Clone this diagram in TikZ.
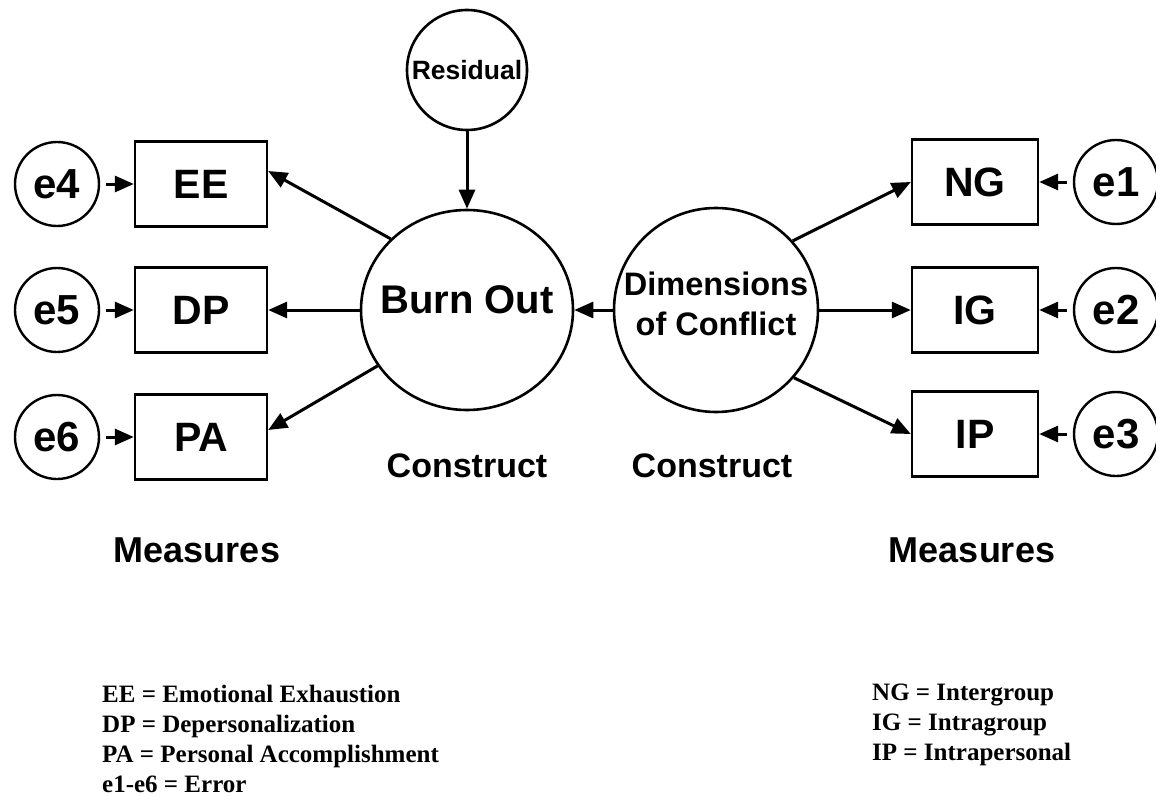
\documentclass[tikz,border=0pt]{standalone}
\usepackage{fontspec}
\setmainfont{Liberation Serif}
\newfontfamily\diagfont{Liberation Sans}
\usetikzlibrary{arrows.meta,shapes.geometric}
\begin{document}
\begin{tikzpicture}[x=1pt,y=-1pt,
  measbox/.style={draw, line width=2.4pt, rectangle, minimum width=132pt,
    minimum height=85pt, inner sep=0pt,
    font=\diagfont\bfseries\fontsize{41}{49}\selectfont},
  measboxr/.style={measbox, minimum width=126pt},
  errnode/.style={draw, line width=2.4pt, circle, minimum size=84pt,
    inner sep=0pt, font=\diagfont\bfseries\fontsize{42}{50}\selectfont},
  latent/.style={draw, line width=2.6pt, inner sep=0pt},
  caption/.style={inner sep=0pt, font=\diagfont\bfseries\fontsize{34}{41}\selectfont},
  bigcaption/.style={caption, font=\diagfont\bfseries\fontsize{36}{43}\selectfont},
  legend/.style={inner sep=0pt, anchor=base west,
    font=\bfseries\fontsize{25}{30}\selectfont},
  link/.style={line width=3pt, -{Triangle[length=19pt,width=16pt]}},
  shortlink/.style={link, shorten <=6pt}
]
\useasboundingbox (0,0) rectangle (1156,797);
\fill[white] (0,0) rectangle (1156,797);

% latent constructs
\node[latent, circle, minimum size=120pt,
  font=\diagfont\bfseries\fontsize{26.5}{32}\selectfont] (R) at (467,70) {Residual};
\node[latent, ellipse, minimum width=212pt, minimum height=200pt] (BO) at (467,310) {};
\node[inner sep=0pt, font=\diagfont\bfseries\fontsize{40}{48}\selectfont]
  (BOtext) at ([yshift=10pt]BO.center) {Burn Out};
\node[latent, circle, minimum size=204pt] (DC) at (716,310) {};
\node[inner sep=0pt, align=center,
  font=\diagfont\bfseries\fontsize{32.5}{40}\selectfont]
  (DCtext) at ([yshift=6pt]DC.center) {Dimensions\\of Conflict};

% measures, left side
\node[measbox] (EE) at (201,184) {EE};
\node[measbox] (DP) at (201,310) {DP};
\node[measbox] (PA) at (201,437) {PA};
\node[errnode] (e4) at (57,184) {e4};
\node[errnode] (e5) at (57,310) {e5};
\node[errnode] (e6) at (57,437) {e6};

% measures, right side
\node[measboxr] (NG) at (975,182) {NG};
\node[measboxr] (IG) at (975,310) {IG};
\node[measboxr] (IP) at (975,434) {IP};
\node[errnode] (e1) at (1116,182) {e1};
\node[errnode] (e2) at (1116,310) {e2};
\node[errnode] (e3) at (1116,434) {e3};

% paths
\draw[link] (R) -- (BO);
\draw[link] (BO.137.8) -- ([yshift=13pt]EE.east);
\draw[link] (BO.west) -- (DP.east);
\draw[link] (BO.212.8) -- ([yshift=7pt]PA.east);
\draw[link] (DC.west) -- (BO.east);
\draw[link] (DC.42) -- (NG.west);
\draw[link] (DC.east) -- (IG.west);
\draw[link] (DC.-41) -- (IP.west);
\draw[shortlink] (e4) -- (EE);
\draw[shortlink] (e5) -- (DP);
\draw[shortlink] (e6) -- (PA);
\draw[shortlink] (e1) -- (NG);
\draw[shortlink] (e2) -- (IG);
\draw[shortlink] (e3) -- (IP);

% captions
\node[caption] (c1) at (467,466) {Construct};
\node[caption] (c2) at (712,466) {Construct};
\node[bigcaption] (m1) at (197,550) {Measures};
\node[bigcaption] (m2) at (972,550) {Measures};

% legend
\node[legend] (l1) at (102,702) {EE = Emotional Exhaustion};
\node[legend] (l2) at (102,732) {DP = Depersonalization};
\node[legend] (l3) at (102,762) {PA = Personal Accomplishment};
\node[legend] (l4) at (102,792) {e1-e6 = Error};
\node[legend] (r1) at (872,700) {NG = Intergroup};
\node[legend] (r2) at (872,730) {IG = Intragroup};
\node[legend] (r3) at (872,760) {IP = Intrapersonal};
\end{tikzpicture}
\end{document}
